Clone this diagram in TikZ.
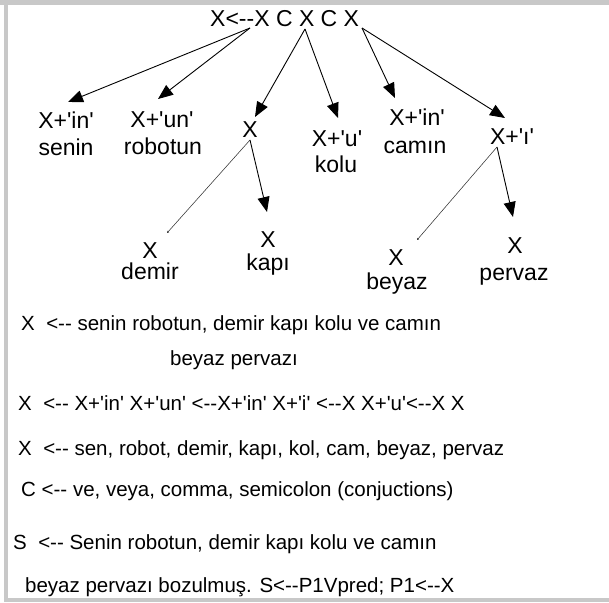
\documentclass[tikz,border=0pt]{standalone}
\usepackage{fontspec}
\setmainfont{Liberation Sans}[Ligatures=TeXOff]
\usepackage{tikz}
\usetikzlibrary{arrows.meta,calc,positioning}
\definecolor{framegray}{RGB}{200,200,200}

\begin{document}
\begin{tikzpicture}[x=1pt,y=-1pt,
  every node/.style={inner sep=0pt,font=\fontsize{20.5}{24}\selectfont},
  lbl/.style={anchor=base,font=\fontsize{23}{27}\selectfont},
  txtline/.style={anchor=base west},
  arr/.style={-{Triangle[length=15pt,width=12pt]},line width=0.9pt},
  faint/.style={-{Triangle[length=2pt,width=2pt]},line width=0.55pt,black!80}]
\useasboundingbox (0,0) rectangle (609,602);
\fill[framegray] (0,0) rectangle (609,5);
\fill[framegray] (4,0) rectangle (8,602);
\fill[framegray] (4,598) rectangle (609,602);

\node[txtline,font=\fontsize{23}{27}\selectfont] (root) at (210,27) {X<--X C X C X};
\coordinate (R1) at (250,28);
\coordinate (R2) at (305,29);
\coordinate (R3) at (362,28);

\node[lbl] (senL) at (66,128) {X+'in'};
\node[lbl] (senW) at (66,155) {senin};
\node[lbl] (robL) at (162,127) {X+'un'};
\node[lbl] (robW) at (163,154) {robotun};
\node[lbl] (mid) at (250,137) {X};
\node[lbl] (koluL) at (337,146) {X+'u'};
\node[lbl] (koluW) at (336,172) {kolu};
\node[lbl] (camL) at (417,125) {X+'in'};
\node[lbl] (camW) at (415,153) {camın};
\node[lbl] (pervL) at (512,144) {X+'ı'};
\node[lbl] (demX) at (150,258) {X};
\node[lbl] (demW) at (150,279) {demir};
\node[lbl] (kapX) at (268,247) {X};
\node[lbl] (kapW) at (268,270) {kapı};
\node[lbl] (beyX) at (396,265) {X};
\node[lbl] (beyW) at (397,289) {beyaz};
\node[lbl] (perX) at (515,253) {X};
\node[lbl] (perW) at (514,280) {pervaz};

\coordinate (M1) at (250,140);
\coordinate (P1) at (497,147);
\coordinate (senT) at (68,102);
\coordinate (robT) at (158,99);
\coordinate (midT) at (255,117);
\coordinate (koluT) at (338,118);
\coordinate (camT) at (395,98);
\coordinate (pervT) at (505,118);
\coordinate (demT) at (167,233);
\coordinate (kapT) at (267,212);
\coordinate (beyT) at (417,240);
\coordinate (perT) at (513,217);

\draw[arr] (R1) -- (senT);
\draw[arr] (R1) -- (robT);
\draw[arr] (R2) -- (midT);
\draw[arr] (R2) -- (koluT);
\draw[arr] (R3) -- (camT);
\draw[arr] (R3) -- (pervT);
\draw[faint] (M1) -- (demT);
\draw[arr] (M1) -- (kapT);
\draw[faint] (P1) -- (beyT);
\draw[arr] (P1) -- (perT);

\node[txtline] (l1) at (21,330) {X\ \ <-- senin robotun, demir kapı kolu ve camın};
\node[txtline] (l2) at (170,365) {beyaz pervazı};
\node[txtline] (l3) at (18,410) {X\ \ <-- X+'in' X+'un' <--X+'in' X+'i' <--X X+'u'<--X X};
\node[txtline] (l4) at (18,455) {X\ \ <-- sen, robot, demir, kapı, kol, cam, beyaz, pervaz};
\node[txtline] (l5) at (21,496) {C <-- ve, veya, comma, semicolon (conjuctions)};
\node[txtline] (l6) at (13,549) {S\ \ <-- Senin robotun, demir kapı kolu ve camın};
\node[txtline] (l7) at (25,592) {beyaz pervazı bozulmuş. S<--P1Vpred; P1<--X};
\end{tikzpicture}
\end{document}
